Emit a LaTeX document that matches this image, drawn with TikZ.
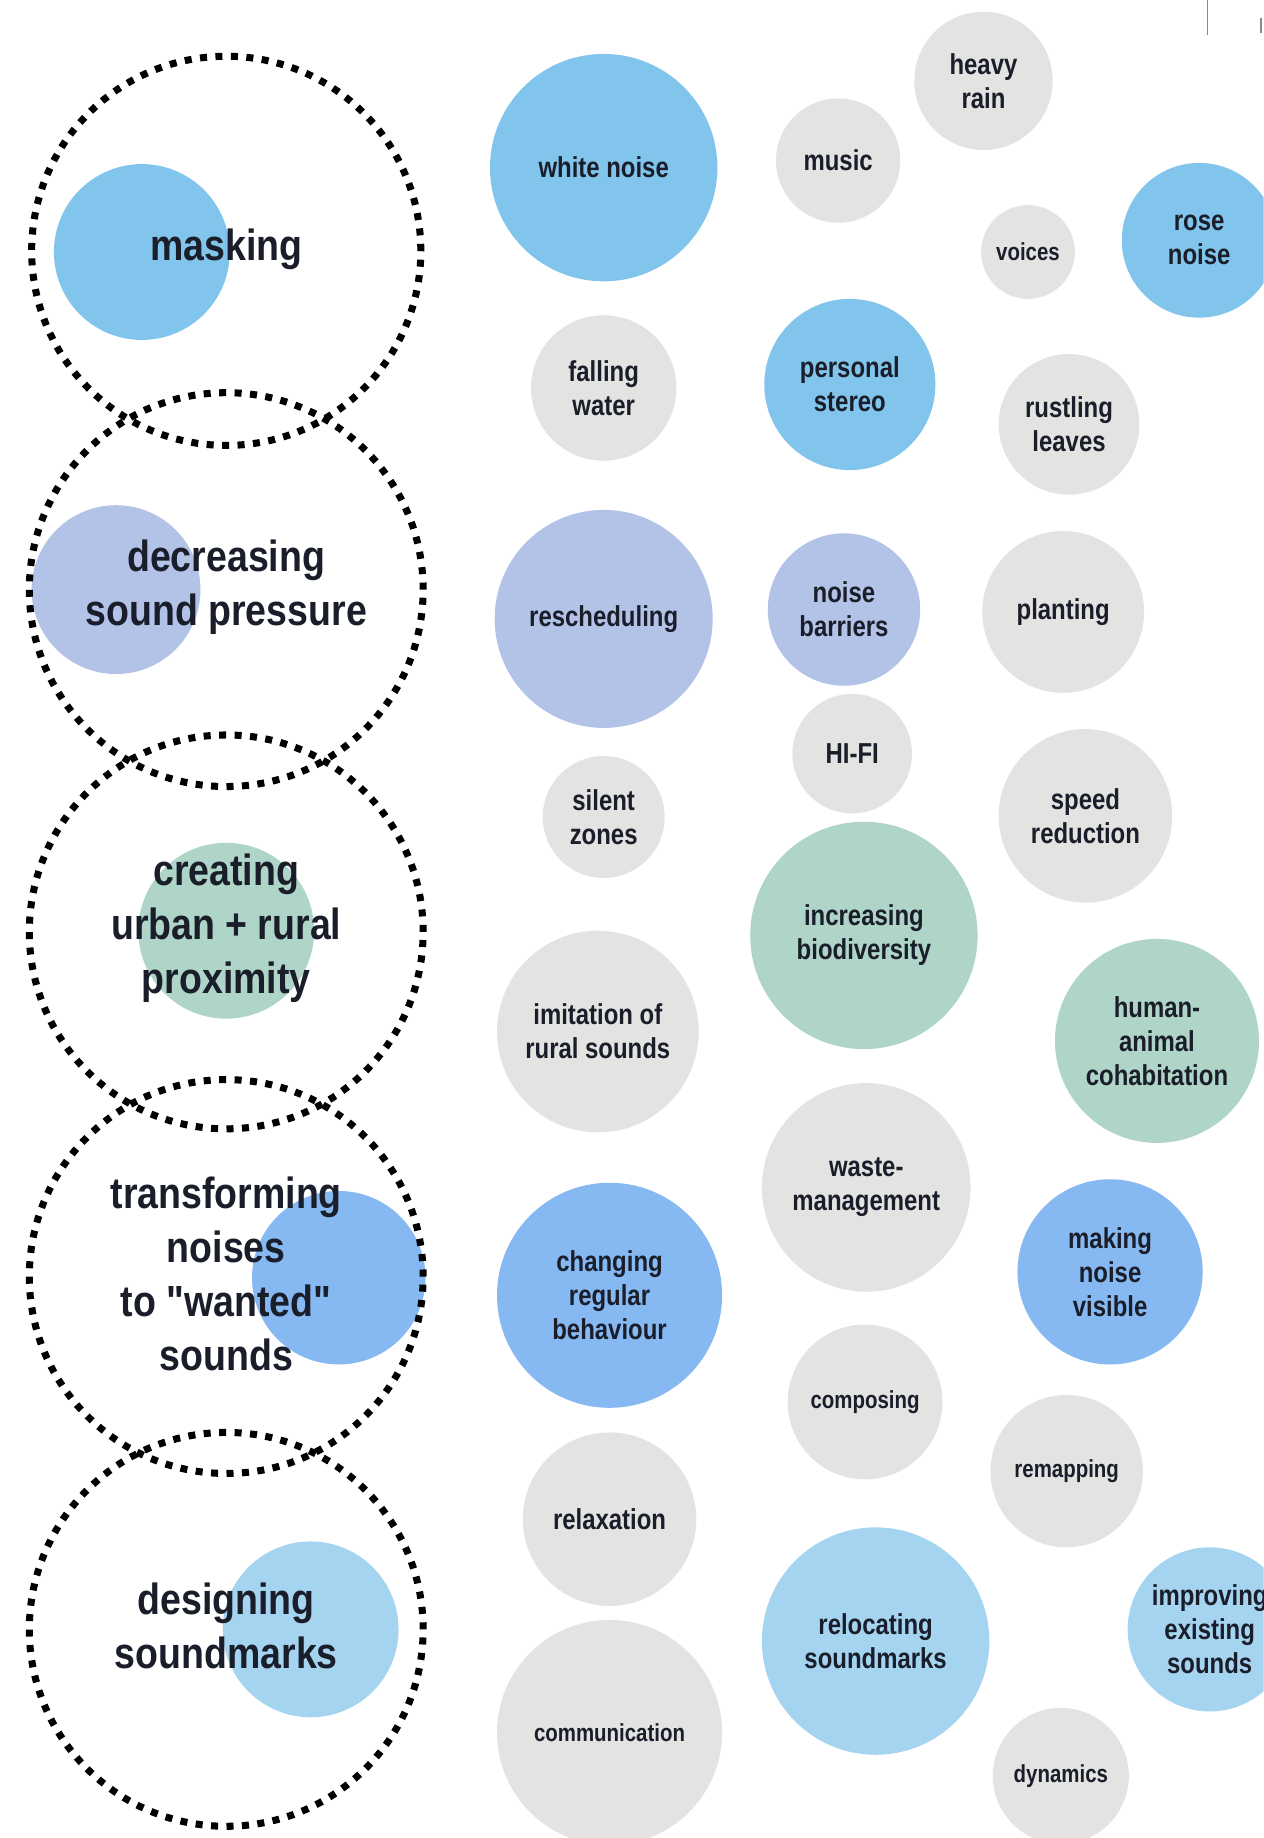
\documentclass[tikz,border=0pt]{standalone}
\usepackage{fontspec}
\setmainfont{Liberation Sans}
\newfontfamily\bigfont[FakeStretch=0.86]{Liberation Sans}
\newfontfamily\smfont[FakeStretch=0.83]{Liberation Sans}
\definecolor{txt}{HTML}{1A1E2A}
\definecolor{cblue}{HTML}{82C5EC}
\definecolor{cperi}{HTML}{B3C3E8}
\definecolor{cgreen}{HTML}{AED5C7}
\definecolor{cmblue}{HTML}{86B8F2}
\definecolor{clblue}{HTML}{A5D4F0}
\definecolor{cgray}{HTML}{E3E3E1}
\definecolor{cline}{HTML}{8A8A8A}
\begin{document}
\begin{tikzpicture}[x=0.5pt,y=-0.5pt,
  bub/.style={circle, inner sep=0pt, align=center, text=txt,
    font=\smfont\bfseries\fontsize{12.3}{14.5}\selectfont},
  smalltxt/.style={font=\smfont\bfseries\fontsize{10.5}{13}\selectfont},
  gb/.style={bub, fill=cgray},
  bb/.style={bub, fill=cblue},
  pb/.style={bub, fill=cperi},
  grb/.style={bub, fill=cgreen},
  mb/.style={bub, fill=cmblue},
  lb/.style={bub, fill=clblue},
  dotc/.style={circle, inner sep=0pt, draw=black, line width=3pt,
    dash pattern=on 3pt off 3.6pt},
  mainlab/.style={align=center, text=txt, inner sep=0pt,
    font=\bigfont\bfseries\fontsize{18.6}{23}\selectfont}]
\useasboundingbox (0,0) rectangle (1078,1568);
\clip (0,0) rectangle (1078,1568);
\fill[white] (0,0) rectangle (1078,1568);

% top-right marks
\coordinate (la) at (1030,0);
\coordinate (lb) at (1030,30);
\coordinate (ta) at (1076,15);
\coordinate (tb) at (1076,28);
\draw[cline, line width=0.6pt] (la) -- (lb);
\draw[cline, line width=0.9pt] (ta) -- (tb);

% left coloured discs
\node[bb, minimum size=75pt] (f1) at (121,215) {};
\node[pb, minimum size=72pt] (f2) at (99,503) {};
\node[grb, minimum size=75pt] (f3) at (193,794) {};
\node[mb, minimum size=74pt] (f4) at (289,1090) {};
\node[lb, minimum size=75pt] (f5) at (265,1390) {};

% dotted circles
\node[dotc, minimum size=166pt] (d1) at (193,214) {};
\node[dotc, minimum size=168pt] (d2) at (193,503) {};
\node[dotc, minimum size=168pt] (d3) at (193,795) {};
\node[dotc, minimum size=168pt] (d4) at (193,1089) {};
\node[dotc, minimum size=168pt] (d5) at (193,1390) {};

% left labels
\node[mainlab] (t1) at (193,213) {masking};
\node[mainlab] (t2) at (193,501) {decreasing\\sound pressure};
\node[mainlab] (t3) at (193,792) {creating\\urban + rural\\proximity};
\node[mainlab] (t4) at (193,1087) {transforming\\noises\\to "wanted"\\sounds};
\node[mainlab] (t5) at (193,1387) {designing\\soundmarks};

% right bubbles
\node[bb, minimum size=97pt] (b1) at (515,143) {white noise};
\node[gb, minimum size=53pt] (b2) at (715,137) {music};
\node[gb, minimum size=59pt] (b3) at (839,69) {heavy\\rain};
\node[gb, smalltxt, minimum size=40pt] (b4) at (877,215) {voices};
\node[bb, minimum size=66pt] (b5) at (1023,205) {rose\\noise};
\node[gb, minimum size=62pt] (b6) at (515,331) {falling\\water};
\node[bb, minimum size=73pt] (b7) at (725,328) {personal\\stereo};
\node[gb, minimum size=60pt] (b8) at (912,362) {rustling\\leaves};
\node[pb, minimum size=93pt] (b9) at (515,528) {rescheduling};
\node[pb, minimum size=65pt] (b10) at (720,520) {noise\\barriers};
\node[gb, minimum size=69pt] (b11) at (907,522) {planting};
\node[gb, minimum size=51pt] (b12) at (727,643) {HI-FI};
\node[gb, minimum size=52pt] (b13) at (515,697) {silent\\zones};
\node[gb, minimum size=74pt] (b14) at (926,696) {speed\\reduction};
\node[grb, minimum size=97pt] (b15) at (737,798) {increasing\\biodiversity};
\node[gb, minimum size=86pt] (b16) at (510,880) {imitation of\\rural sounds};
\node[grb, minimum size=87pt] (b17) at (987,888) {human-\\animal\\cohabitation};
\node[gb, minimum size=89pt] (b18) at (739,1013) {waste-\\management};
\node[mb, minimum size=96pt] (b19) at (520,1105) {changing\\regular\\behaviour};
\node[mb, minimum size=79pt] (b20) at (947,1085) {making\\noise\\visible};
\node[gb, smalltxt, minimum size=66pt] (b21) at (738,1196) {composing};
\node[gb, smalltxt, minimum size=65pt] (b22) at (910,1255) {remapping};
\node[gb, minimum size=74pt] (b23) at (520,1296) {relaxation};
\node[lb, minimum size=97pt] (b24) at (747,1400) {relocating\\soundmarks};
\node[lb, minimum size=70pt] (b25) at (1032,1390) {improving\\existing\\sounds};
\node[gb, smalltxt, minimum size=96pt] (b26) at (520,1478) {communication};
\node[gb, smalltxt, minimum size=58pt] (b27) at (905,1515) {dynamics};
\end{tikzpicture}
\end{document}
